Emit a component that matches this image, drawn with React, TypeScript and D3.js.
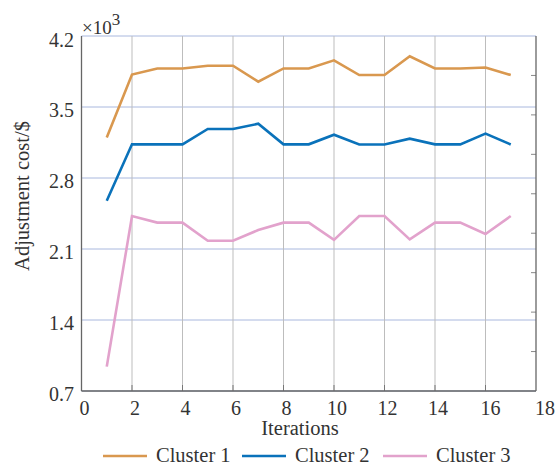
import React from "react";
import * as d3 from "d3";

const iterations = [1, 2, 3, 4, 5, 6, 7, 8, 9, 10, 11, 12, 13, 14, 15, 16, 17];
const cluster1 = [3200, 3820, 3880, 3880, 3907, 3907, 3750, 3880, 3880, 3960, 3815, 3815, 4000, 3880, 3880, 3890, 3815];
const cluster2 = [2576, 3132, 3132, 3132, 3283, 3283, 3335, 3132, 3132, 3227, 3130, 3130, 3188, 3132, 3132, 3237, 3130];
const cluster3 = [940, 2425, 2360, 2360, 2182, 2182, 2287, 2360, 2360, 2190, 2425, 2425, 2195, 2360, 2360, 2248, 2425];
const seriesNames = ["Cluster 1", "Cluster 2", "Cluster 3"];
const seriesColors = ["#D9984F", "#0A72BA", "#E2A2CC"];
const xTicks = [0, 2, 4, 6, 8, 10, 12, 14, 16, 18];
const yTicks = [700, 1400, 2100, 2800, 3500, 4200];

const W = 557;
const H = 467;
const L = 81.5;
const R = 536;
const T = 36;
const B = 391;
const FONT = "'Liberation Serif', 'Times New Roman', serif";

export default function App() {
  const x = d3.scaleLinear().domain([0, 18]).range([L, R]);
  const y = d3.scaleLinear().domain([700, 4200]).range([B, T]);
  const yr = d3.scaleLinear().domain([0, 9]).range([B, T]);
  const line = d3
    .line<[number, number]>()
    .x((d) => x(d[0]))
    .y((d) => y(d[1]));
  const all = [cluster1, cluster2, cluster3];
  const legendX = [103, 242, 383];

  return (
    <svg
      width={W}
      height={H}
      style={{ position: "absolute", left: 0, top: 0, background: "#fff" }}
      fontFamily={FONT}
    >
      <rect x={0} y={0} width={W} height={H} fill="#fff" />
      {/* horizontal grid */}
      {yTicks.map((t) => (
        <line key={"hg" + t} x1={L} x2={R} y1={y(t)} y2={y(t)} stroke="#A9B8DE" strokeWidth={1} />
      ))}
      {/* vertical grid */}
      {xTicks.slice(1, -1).map((t) => (
        <line key={"vg" + t} x1={x(t)} x2={x(t)} y1={T} y2={B} stroke="#BDBDBD" strokeWidth={1} />
      ))}
      {/* bottom ticks */}
      {xTicks.slice(1, -1).map((t) => (
        <line key={"bt" + t} x1={x(t)} x2={x(t)} y1={B} y2={B - 6} stroke="#777" strokeWidth={1} />
      ))}
      {/* right minor ticks */}
      {d3.range(1, 9).map((k) => (
        <line key={"rt" + k} x1={R} x2={R - 5} y1={yr(k)} y2={yr(k)} stroke="#888" strokeWidth={1} />
      ))}
      {/* axes */}
      <line x1={L} x2={L} y1={T} y2={B} stroke="#666" strokeWidth={1.3} />
      <line x1={R} x2={R} y1={T} y2={B} stroke="#666" strokeWidth={1.3} />
      <line x1={L} x2={R} y1={B} y2={B} stroke="#666" strokeWidth={1.3} />
      {/* series */}
      {all.map((vals, i) => (
        <path
          key={"s" + i}
          d={line(iterations.map((it, j) => [it, vals[j]] as [number, number])) || ""}
          fill="none"
          stroke={seriesColors[i]}
          strokeWidth={2.6}
          strokeLinejoin="miter"
        />
      ))}
      {/* y tick labels */}
      {yTicks.map((t) => (
        <text
          key={"yl" + t}
          x={74}
          y={y(t) + (t === 4200 ? 11 : 9.5)}
          textAnchor="end"
          fontSize={20}
          fill="#333"
        >
          {(t / 1000).toFixed(1)}
        </text>
      ))}
      {/* x tick labels */}
      {xTicks.map((t) => (
        <text
          key={"xl" + t}
          x={x(t) + (t === 18 ? 9 : t >= 16 ? 5 : 3)}
          y={415}
          textAnchor="middle"
          fontSize={20}
          fill="#333"
        >
          {t}
        </text>
      ))}
      {/* exponent */}
      <text x={82} y={34} fontSize={19} fill="#333">
        ×10
        <tspan fontSize={17} dy={-9}>3</tspan>
      </text>
      {/* axis labels */}
      <text x={300} y={435} textAnchor="middle" fontSize={20.5} fill="#333">
        Iterations
      </text>
      <text
        transform={`translate(29,196) rotate(-90)`}
        textAnchor="middle"
        fontSize={20.5}
        fill="#333"
      >
        Adjustment cost/$
      </text>
      {/* legend */}
      {seriesNames.map((n, i) => (
        <g key={"lg" + i}>
          <line
            x1={legendX[i]}
            x2={legendX[i] + 44}
            y1={456}
            y2={456}
            stroke={seriesColors[i]}
            strokeWidth={2.6}
          />
          <text x={legendX[i] + 53} y={462} fontSize={20.5} fill="#333">
            {n}
          </text>
        </g>
      ))}
    </svg>
  );
}
